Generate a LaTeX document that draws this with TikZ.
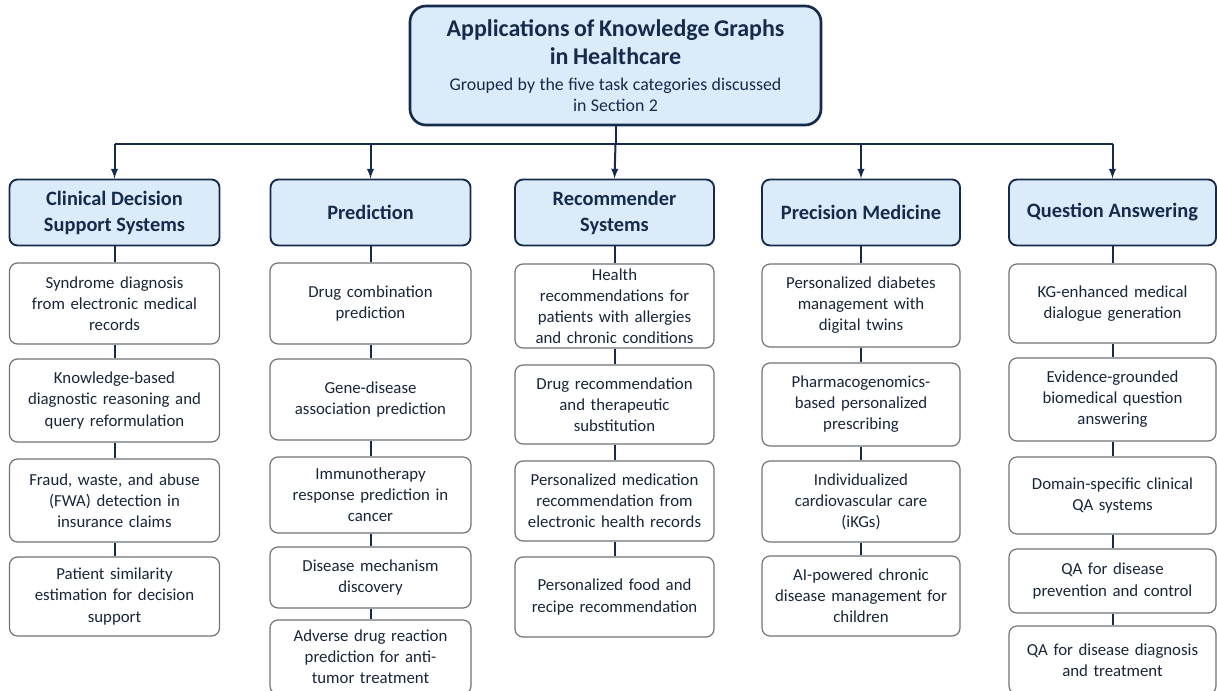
\documentclass[tikz,border=0pt]{standalone}
\usepackage{fontspec}
\setmainfont{Carlito}
\usetikzlibrary{positioning}
\newdimen\pxu
\pxu=0.75pt
\definecolor{navy}{HTML}{142B4C}
\definecolor{kop}{HTML}{DCEBFA}
\definecolor{rand}{HTML}{707478}
\definecolor{tekst}{HTML}{18263A}
\tikzstyle{root}=[rectangle,
                  draw=navy,
                  line width=2pt,
                  fill=kop,
                  rounded corners=12pt,
                  align=center,
                  text=navy,
                  text width=400\pxu,
                  minimum width=411\pxu,
                  minimum height=119\pxu
                 ]
\tikzstyle{category}=[rectangle,
                      draw=navy,
                      line width=1.4pt,
                      fill=kop,
                      rounded corners=6pt,
                      align=center,
                      text=navy,
                      font=\fontsize{15.3}{19.5}\selectfont\bfseries,
                      minimum height=66\pxu
                     ]
\tikzstyle{task}=[rectangle,
                  draw=rand,
                  line width=0.9pt,
                  fill=white,
                  rounded corners=6pt,
                  align=center,
                  text=tekst,
                  inner xsep=3pt,
                  font=\fontsize{12.6}{15.8}\selectfont
                 ]
\tikzstyle{link}=[draw=navy, line width=1.5pt]

\begin{document}
\begin{tikzpicture}[x=0.75pt, y=-0.75pt]
  \useasboundingbox (0,0) rectangle (1217,691);

  \node at (615.5, 65.5) (top) [root] {{\fontsize{18}{21}\selectfont\bfseries Applications of Knowledge Graphs\\ in Healthcare\par}\vspace{3.5pt}
    {\fontsize{13.4}{15.8}\selectfont Grouped by the five task categories discussed\\ in Section 2\par}};

  % bus
  \coordinate (b1) at (114.5, 144);
  \coordinate (b2) at (370.5, 144);
  \coordinate (b3) at (615.5, 144);
  \coordinate (b4) at (861, 144);
  \coordinate (b5) at (1112.5, 144);
  \draw[link] (top.south) -- (b3);
  \draw[link] (b1) -- (b5);

  \node at (114.5, 212.5) (h1) [category, minimum width=210\pxu] {Clinical Decision\\ Support Systems};
  \node at (370.5, 212.5) (h2) [category, minimum width=200\pxu] {Prediction};
  \node at (614.5, 212.5) (h3) [category, minimum width=199\pxu] {Recommender\\ Systems};
  \node at (861, 212.5) (h4) [category, minimum width=198\pxu] {Precision Medicine};
  \node at (1112.5, 212.5) (h5) [category, minimum width=207\pxu] {Question Answering};

  \draw[link, -latex] (b1) -- (h1.north);
  \draw[link, -latex] (b2) -- (h2.north);
  \draw[link, -latex] (b3) -- (h3.north);
  \draw[link, -latex] (b4) -- (h4.north);
  \draw[link, -latex] (b5) -- (h5.north);

  % clinical decision support
  \node at (114.5, 303.5) (c1a) [task, minimum width=210\pxu, minimum height=81\pxu, text width=200\pxu] {Syndrome diagnosis\\ from electronic medical\\ records};
  \node at (114.5, 400.5) (c1b) [task, minimum width=210\pxu, minimum height=83\pxu, text width=200\pxu] {Knowledge-based\\ diagnostic reasoning and\\ query reformulation};
  \node at (114.5, 500.5) (c1c) [task, minimum width=210\pxu, minimum height=83\pxu, text width=200\pxu] {Fraud, waste, and abuse\\ (FWA) detection in\\ insurance claims};
  \node at (114.5, 596.5) (c1d) [task, minimum width=210\pxu, minimum height=79\pxu, text width=200\pxu] {Patient similarity\\ estimation for decision\\ support};
  \draw[link] (h1.south) -- (c1a.north);
  \draw[link] (c1a.south) -- (c1b.north);
  \draw[link] (c1b.south) -- (c1c.north);
  \draw[link] (c1c.south) -- (c1d.north);

  % prediction
  \node at (370.5, 303.5) (c2a) [task, minimum width=201\pxu, minimum height=81\pxu, text width=192\pxu] {Drug combination\\ prediction};
  \node at (370.5, 399.5) (c2b) [task, minimum width=201\pxu, minimum height=81\pxu, text width=192\pxu] {Gene-disease\\ association prediction};
  \node at (370.5, 495) (c2c) [task, minimum width=201\pxu, minimum height=76\pxu, text width=192\pxu] {Immunotherapy\\ response prediction in\\ cancer};
  \node at (370.5, 577.5) (c2d) [task, minimum width=201\pxu, minimum height=61\pxu, text width=192\pxu] {Disease mechanism\\ discovery};
  \node at (370.5, 657) (c2e) [task, minimum width=201\pxu, minimum height=74\pxu, text width=192\pxu] {Adverse drug reaction\\ prediction for anti-\\ tumor treatment};
  \draw[link] (h2.south) -- (c2a.north);
  \draw[link] (c2a.south) -- (c2b.north);
  \draw[link] (c2b.south) -- (c2c.north);
  \draw[link] (c2c.south) -- (c2d.north);
  \draw[link] (c2d.south) -- (c2e.north);

  % recommender systems
  \node at (614.5, 306) (c3a) [task, minimum width=199\pxu, minimum height=84\pxu, text width=190\pxu] {Health\\ recommendations for\\ patients with allergies\\ and chronic conditions};
  \node at (614.5, 404.5) (c3b) [task, minimum width=199\pxu, minimum height=79\pxu, text width=190\pxu] {Drug recommendation\\ and therapeutic\\ substitution};
  \node at (614.5, 501) (c3c) [task, minimum width=199\pxu, minimum height=80\pxu, text width=190\pxu] {Personalized medication\\ recommendation from\\ electronic health records};
  \node at (614.5, 597) (c3d) [task, minimum width=199\pxu, minimum height=80\pxu, text width=190\pxu] {Personalized food and\\ recipe recommendation};
  \draw[link] (h3.south) -- (c3a.north);
  \draw[link] (c3a.south) -- (c3b.north);
  \draw[link] (c3b.south) -- (c3c.north);
  \draw[link] (c3c.south) -- (c3d.north);

  % precision medicine
  \node at (861, 305.5) (c4a) [task, minimum width=198\pxu, minimum height=83\pxu, text width=190\pxu] {Personalized diabetes\\ management with\\ digital twins};
  \node at (861, 404.5) (c4b) [task, minimum width=198\pxu, minimum height=83\pxu, text width=190\pxu] {Pharmacogenomics-\\ based personalized\\ prescribing};
  \node at (861, 501.5) (c4c) [task, minimum width=198\pxu, minimum height=81\pxu, text width=190\pxu] {Individualized\\ cardiovascular care\\ (iKGs)};
  \node at (861, 596) (c4d) [task, minimum width=198\pxu, minimum height=80\pxu, text width=190\pxu] {AI-powered chronic\\ disease management for\\ children};
  \draw[link] (h4.south) -- (c4a.north);
  \draw[link] (c4a.south) -- (c4b.north);
  \draw[link] (c4b.south) -- (c4c.north);
  \draw[link] (c4c.south) -- (c4d.north);

  % question answering
  \node at (1112.5, 303.5) (c5a) [task, minimum width=207\pxu, minimum height=79\pxu, text width=198\pxu] {KG-enhanced medical\\ dialogue generation};
  \node at (1112.5, 399.5) (c5b) [task, minimum width=207\pxu, minimum height=83\pxu, text width=198\pxu] {Evidence-grounded\\ biomedical question\\ answering};
  \node at (1112.5, 495.5) (c5c) [task, minimum width=207\pxu, minimum height=77\pxu, text width=198\pxu] {Domain-specific clinical\\ QA systems};
  \node at (1112.5, 581) (c5d) [task, minimum width=207\pxu, minimum height=64\pxu, text width=198\pxu] {QA for disease\\ prevention and control};
  \node at (1112.5, 660) (c5e) [task, minimum width=207\pxu, minimum height=68\pxu, text width=198\pxu] {QA for disease diagnosis\\ and treatment};
  \draw[link] (h5.south) -- (c5a.north);
  \draw[link] (c5a.south) -- (c5b.north);
  \draw[link] (c5b.south) -- (c5c.north);
  \draw[link] (c5c.south) -- (c5d.north);
  \draw[link] (c5d.south) -- (c5e.north);
\end{tikzpicture}
\end{document}
